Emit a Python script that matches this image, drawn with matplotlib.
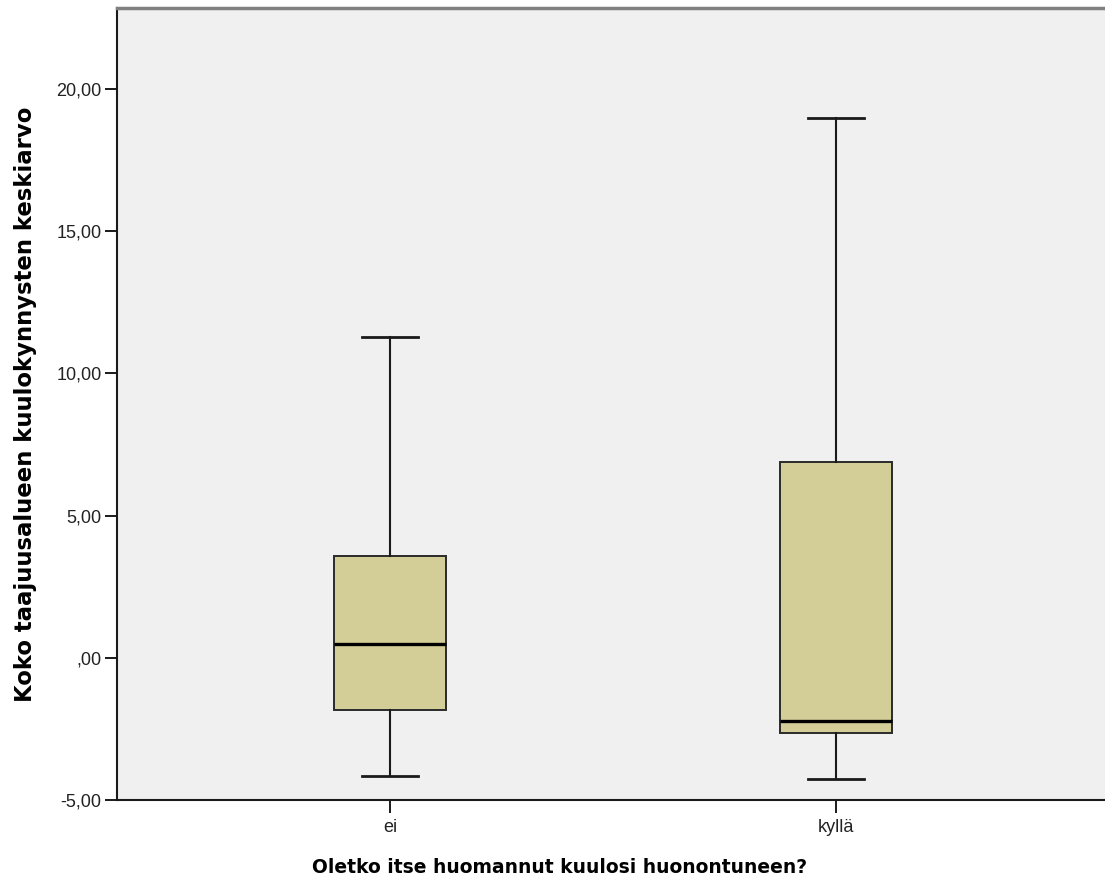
import matplotlib
matplotlib.use("Agg")
import matplotlib.pyplot as plt

categories = ["ei", "kyllä"]
whislo = [-4.15, -4.25]
q1 = [-1.83, -2.64]
med = [0.49, -2.21]
q3 = [3.58, 6.89]
whishi = [11.28, 18.97]
yticks = [-5, 0, 5, 10, 15, 20]
yticklabels = ["-5,00", ",00", "5,00", "10,00", "15,00", "20,00"]

plt.rcParams['font.family'] = ['Liberation Sans', 'DejaVu Sans']

fig = plt.figure(figsize=(11.05, 8.86), dpi=100)
ax = fig.add_axes([117/1105, 86/886, 1 - 117/1105, (800-8)/886])
ax.set_facecolor("#F0F0F0")

stats = []
for i in range(len(categories)):
    stats.append(dict(label=categories[i], whislo=whislo[i], q1=q1[i], med=med[i],
                      q3=q3[i], whishi=whishi[i], fliers=[]))

ax.bxp(stats, positions=[1, 2], widths=0.251, patch_artist=True, showfliers=False,
       boxprops=dict(facecolor="#D3CE98", edgecolor="#2a2a2a", linewidth=1.4),
       medianprops=dict(color="black", linewidth=2.4, solid_capstyle="butt"),
       whiskerprops=dict(color="#1a1a1a", linewidth=1.5),
       capprops=dict(color="#1a1a1a", linewidth=2.0),
       capwidths=0.1256)

ax.set_xlim(0.388, 2.603)
ax.set_ylim(-5, 22.85)
ax.set_yticks(yticks)
ax.set_yticklabels(yticklabels)
ax.set_xticks([1, 2])
ax.set_xticklabels(categories)

ax.tick_params(axis='both', direction='out', length=9, width=1.4, color="#1a1a1a",
               labelsize=13, labelcolor="#222222", pad=2)
ax.tick_params(axis='x', pad=5)

ax.spines['right'].set_visible(False)
ax.spines['top'].set_color("#808080")
ax.spines['top'].set_linewidth(2.5)
ax.spines['left'].set_color("#1a1a1a")
ax.spines['left'].set_linewidth(1.5)
ax.spines['bottom'].set_color("#1a1a1a")
ax.spines['bottom'].set_linewidth(1.5)

ax.set_ylabel("Koko taajuusalueen kuulokynnysten keskiarvo", fontsize=16.4, fontweight='bold',
              family=['DejaVu Sans'])
ax.set_xlabel("Oletko itse huomannut kuulosi huonontuneen?", fontsize=13.5, fontweight='bold',
              family=['DejaVu Sans'])
ax.xaxis.set_label_coords((560-117)/(1105-117), -(858-800)/792)
ax.yaxis.set_label_coords(-(117-37)/988, (800-404)/792)

fig.savefig("out.png", dpi=100)
